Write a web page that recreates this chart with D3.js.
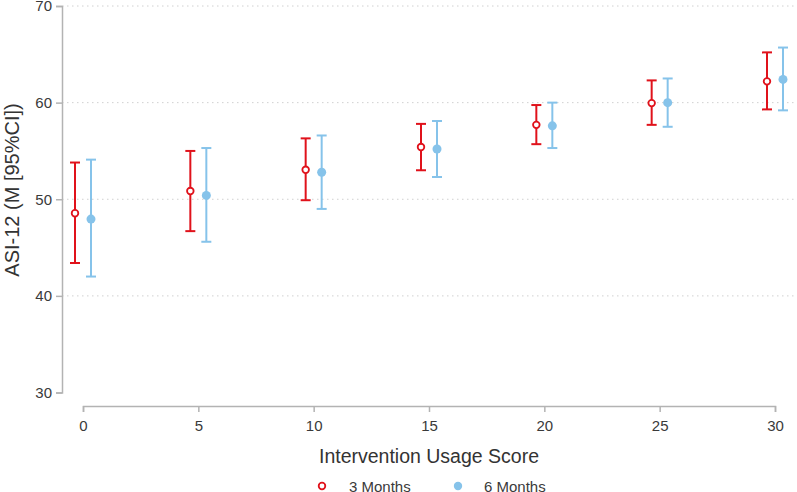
<!DOCTYPE html>
<html>
<head>
<meta charset="utf-8">
<script src="https://cdn.jsdelivr.net/npm/d3@7"></script>
<style>
  body { margin: 0; background: #fff; }
  text { font-family: "Liberation Sans", Arial, sans-serif; }
</style>
</head>
<body>
<svg id="chart" width="797" height="492"></svg>
<script>
// Intervention usage scores on the x axis
const scores = [0, 5, 10, 15, 20, 25, 30];

// 3 Months: mean and 95% CI
const mean3 = [48.55, 50.85, 53.05, 55.4, 57.7, 59.95, 62.2];
const low3 = [43.4, 46.7, 49.9, 53.0, 55.7, 57.7, 59.3];
const high3 = [53.8, 55.0, 56.3, 57.8, 59.75, 62.3, 65.2];

// 6 Months: mean and 95% CI
const mean6 = [47.95, 50.4, 52.8, 55.2, 57.6, 60.0, 62.4];
const low6 = [42.0, 45.6, 49.0, 52.3, 55.3, 57.5, 59.2];
const high6 = [54.1, 55.3, 56.6, 58.1, 60.0, 62.5, 65.7];

const yTicks = [30, 40, 50, 60, 70];
const gridTicks = [40, 50, 60, 70];

const RED = "#e0121b";
const BLUE = "#86c3ea";
const AXIS = "#b3b3b3";
const TICK_FONT = 15;
const TITLE_FONT = 19.5;

const svg = d3.select("#chart");

const x = d3.scaleLinear().domain([0, 30]).range([83, 775]);
const y = d3.scaleLinear().domain([30, 70]).range([392.5, 6]);

// dotted grid lines
svg.append("g")
    .selectAll("line")
    .data(gridTicks)
    .enter().append("line")
    .attr("x1", 62).attr("x2", 797)
    .attr("y1", d => y(d)).attr("y2", d => y(d))
    .attr("stroke", "#d0d0d0")
    .attr("stroke-width", 1)
    .attr("stroke-dasharray", "1.5,3.5");

// y axis
const yAxis = svg.append("g")
    .attr("transform", "translate(62,0)")
    .call(d3.axisLeft(y).tickValues(yTicks).tickSize(6).tickPadding(4));
yAxis.select(".domain").attr("stroke", AXIS).attr("stroke-width", 1.5);
yAxis.selectAll(".tick line").attr("stroke", AXIS).attr("stroke-width", 1.5);
yAxis.selectAll(".tick text").attr("font-size", TICK_FONT).attr("fill", "#3a3a3a")
    .attr("font-family", "Liberation Sans, Arial, sans-serif");

// x axis
const xAxis = svg.append("g")
    .attr("transform", "translate(0,406)")
    .call(d3.axisBottom(x).tickValues(scores).tickSize(6).tickPadding(8));
xAxis.select(".domain").attr("stroke", AXIS).attr("stroke-width", 1.5);
xAxis.selectAll(".tick line").attr("stroke", AXIS).attr("stroke-width", 1.5);
xAxis.selectAll(".tick text").attr("font-size", TICK_FONT).attr("fill", "#3a3a3a")
    .attr("font-family", "Liberation Sans, Arial, sans-serif");

// axis titles
svg.append("text")
    .attr("x", 429).attr("y", 463)
    .attr("text-anchor", "middle")
    .attr("font-size", TITLE_FONT).attr("fill", "#333")
    .text("Intervention Usage Score");

svg.append("text")
    .attr("transform", "translate(19,190) rotate(-90)")
    .attr("text-anchor", "middle")
    .attr("font-size", TITLE_FONT + 0.5).attr("fill", "#333")
    .text("ASI-12 (M [95%CI])");

/*
    Draws one series of error bars with caps and a point marker,
    shifted horizontally by dx pixels from the tick
*/
function drawSeries(means, lows, highs, dx, color, filled) {
    const rows = scores.map((s, i) => ({ s, m: means[i], lo: lows[i], hi: highs[i] }));
    const g = svg.append("g");
    const cap = 5;

    g.selectAll(".bar").data(rows).enter().append("line")
        .attr("x1", d => x(d.s) + dx).attr("x2", d => x(d.s) + dx)
        .attr("y1", d => y(d.lo)).attr("y2", d => y(d.hi))
        .attr("stroke", color).attr("stroke-width", 2);

    ["lo", "hi"].forEach(k => {
        g.selectAll(".cap-" + k).data(rows).enter().append("line")
            .attr("x1", d => x(d.s) + dx - cap).attr("x2", d => x(d.s) + dx + cap)
            .attr("y1", d => y(d[k])).attr("y2", d => y(d[k]))
            .attr("stroke", color).attr("stroke-width", 2);
    });

    g.selectAll("circle").data(rows).enter().append("circle")
        .attr("cx", d => x(d.s) + dx).attr("cy", d => y(d.m))
        .attr("r", filled ? 4.5 : 3.3)
        .attr("fill", filled ? color : "#fff")
        .attr("stroke", color)
        .attr("stroke-width", filled ? 0 : 1.8);
}

drawSeries(mean3, low3, high3, -8, RED, false);
drawSeries(mean6, low6, high6, 8, BLUE, true);

// legend
const legend = svg.append("g");
legend.append("circle")
    .attr("cx", 322).attr("cy", 486).attr("r", 3.3)
    .attr("fill", "#fff").attr("stroke", RED).attr("stroke-width", 1.8);
legend.append("text")
    .attr("x", 349).attr("y", 491.5)
    .attr("font-size", TICK_FONT).attr("fill", "#3a3a3a")
    .text("3 Months");
legend.append("circle")
    .attr("cx", 458).attr("cy", 486).attr("r", 4.2)
    .attr("fill", BLUE);
legend.append("text")
    .attr("x", 484).attr("y", 491.5)
    .attr("font-size", TICK_FONT).attr("fill", "#3a3a3a")
    .text("6 Months");
</script>
</body>
</html>
